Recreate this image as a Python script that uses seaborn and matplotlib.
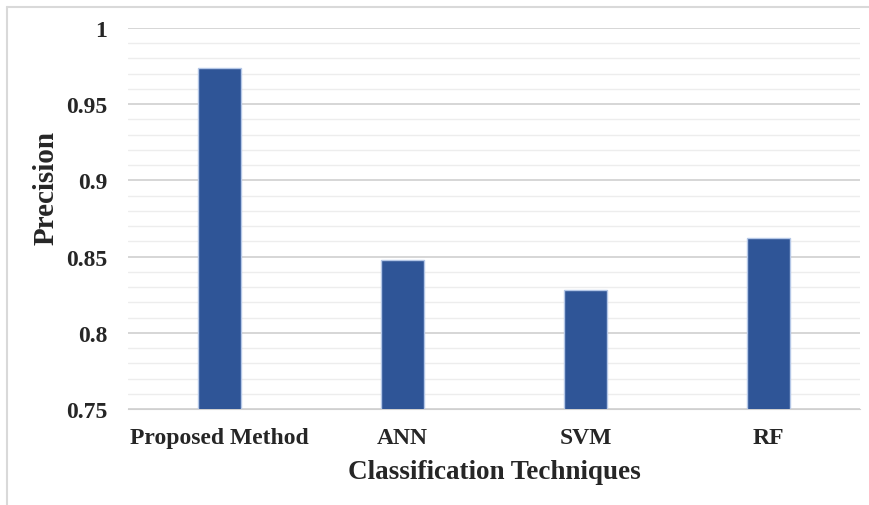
import numpy as np
import pandas as pd
import seaborn as sns
import matplotlib.pyplot as plt
from matplotlib.lines import Line2D
from matplotlib.ticker import MultipleLocator

techniques = ["Proposed Method", "ANN", "SVM", "RF"]
precision = [0.974, 0.848, 0.828, 0.862]

df = pd.DataFrame({"technique": techniques, "precision": precision})

sns.set_style("white")
plt.rcParams["font.family"] = ["Liberation Serif", "DejaVu Serif"]

W, H = 869, 506
fig = plt.figure(figsize = (W / 100, H / 100), dpi = 100)
ax = fig.add_axes([128 / W, 1 - 410 / H, (860 - 128) / W, (410 - 29) / H])

sns.barplot(x = "technique", y = "precision", data = df, ax = ax, color = "#2F5597",
            width = 0.24, saturation = 1, edgecolor = "#B4C7E7", linewidth = 1, zorder = 3)

ax.set_ylim(0.75, 1.0)
ax.yaxis.set_minor_locator(MultipleLocator(0.01))
ax.set_yticks([0.75, 0.8, 0.85, 0.9, 0.95, 1.0])
ax.set_yticklabels(["0.75", "0.8", "0.85", "0.9", "0.95", "1"])
ax.grid(axis = "y", which = "major", color = "#D0D0D0", linewidth = 1.2, zorder = 0)
ax.grid(axis = "y", which = "minor", color = "#EDEDED", linewidth = 1.0, zorder = 0)
ax.set_axisbelow(True)
for s in ["left", "right", "top"]:
    ax.spines[s].set_visible(False)
ax.spines["bottom"].set_color("#D0D0D0")
ax.tick_params(axis = "both", which = "both", length = 0, labelsize = 17)
ax.tick_params(axis = "y", pad = 15)
ax.tick_params(axis = "x", pad = 13)
for lab in ax.get_xticklabels() + ax.get_yticklabels():
    lab.set_fontweight("bold")

ax.set_xlabel("Classification Techniques", fontsize = 19.5, fontweight = "bold", labelpad = 8)
ax.set_ylabel("Precision", fontsize = 21, fontweight = "bold", va = "center")
# label sits a bit above the middle of the axis, as in the original
ax.yaxis.set_label_coords((46 - 128) / (860 - 128), (410 - 188) / (410 - 29))

# light border on the left and top of the picture
fig.lines.append(Line2D([7.5 / W, 7.5 / W], [0, 1 - 7.5 / H], transform = fig.transFigure,
                        color = "#D9D9D9", linewidth = 1.5))
fig.lines.append(Line2D([7.5 / W, 1], [1 - 7.5 / H, 1 - 7.5 / H], transform = fig.transFigure,
                        color = "#D9D9D9", linewidth = 1.5))

fig.savefig("out.png", dpi = 100)
